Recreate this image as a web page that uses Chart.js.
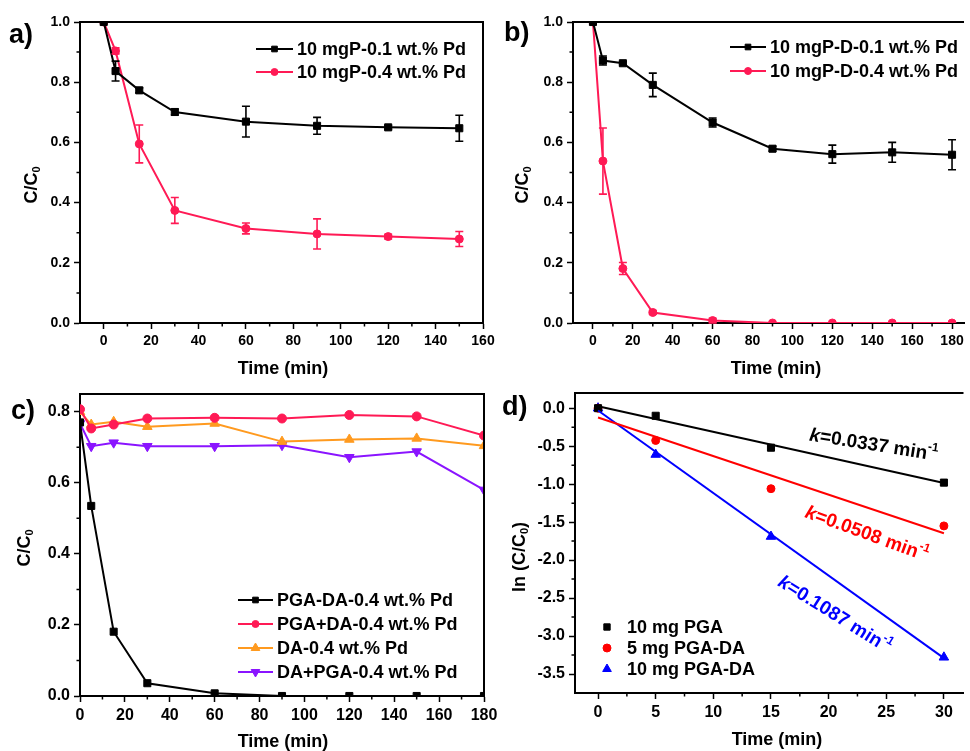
<!DOCTYPE html>
<html>
<head>
<meta charset="utf-8">
<script src="https://cdn.jsdelivr.net/npm/chart.js@4.4.1/dist/chart.umd.min.js"></script>
<style>
  body { margin: 0; background: #fff; width: 970px; height: 751px; overflow: hidden; position: relative; }
  canvas { position: absolute; }
</style>
</head>
<body>
<canvas id="chartA" width="500" height="390" style="left:0;top:0"></canvas>
<canvas id="chartB" width="490" height="390" style="left:480px;top:0"></canvas>
<canvas id="chartC" width="500" height="381" style="left:0;top:370px"></canvas>
<canvas id="chartD" width="490" height="381" style="left:480px;top:370px"></canvas>
<script>
// panel a
const timeA = [0, 5, 15, 30, 60, 90, 120, 150];
const a01 = [1.0, 0.837, 0.773, 0.701, 0.669, 0.655, 0.650, 0.647];
const a01Err = [0, 0.033, 0.008, 0.010, 0.051, 0.028, 0.006, 0.043];
const a04 = [1.0, 0.904, 0.595, 0.374, 0.314, 0.296, 0.287, 0.279];
const a04Err = [0, 0.010, 0.063, 0.043, 0.018, 0.050, 0.008, 0.025];

// panel b
const timeB = [0, 5, 15, 30, 60, 90, 120, 150, 180];
const b01 = [1.0, 0.872, 0.863, 0.791, 0.666, 0.579, 0.561, 0.567, 0.559];
const b01Err = [0, 0.015, 0.005, 0.039, 0.015, 0.008, 0.030, 0.033, 0.050];
const b04 = [1.0, 0.538, 0.181, 0.035, 0.008, 0, 0, 0, 0];
const b04Err = [0, 0.110, 0.020, 0.006, 0.008, 0, 0, 0, 0];

// panel c
const timeC = [0, 5, 15, 30, 60, 90, 120, 150, 180];
const cPgaDa = [0.77, 0.535, 0.181, 0.036, 0.0075, 0, 0, 0, 0];
const cPgaPlusDa = [0.807, 0.753, 0.764, 0.781, 0.783, 0.781, 0.791, 0.787, 0.733];
const cDa = [0.80, 0.764, 0.772, 0.758, 0.767, 0.716, 0.722, 0.725, 0.704];
const cDaPlusPga = [0.767, 0.703, 0.713, 0.703, 0.703, 0.706, 0.672, 0.688, 0.58];

// panel d (ln C/C0 and linear fits)
const timeD = [0, 5, 15, 30];
const dPga10 = [0.0, -0.10, -0.52, -0.98];
const dPgaDa5 = [0.0, -0.425, -1.06, -1.55];
const dPgaDa10 = [0.0, -0.61, -1.69, -3.28];
const fitK = [0.0337, 0.0508, 0.1087];
const fitB = [0.025, -0.123, -0.03];
const fitX = [0, 30];

// tick labels
const ticksA = [0, 20, 40, 60, 80, 100, 120, 140, 160];
const ticksB = [0, 20, 40, 60, 80, 100, 120, 140, 160, 180];
const ticksD = [0, 5, 10, 15, 20, 25, 30];
const ticksY1 = [0, 0.2, 0.4, 0.6, 0.8, 1.0];
const ticksYc = [0, 0.2, 0.4, 0.6, 0.8];
const ticksYd = [0, -0.5, -1.0, -1.5, -2.0, -2.5, -3.0, -3.5];

const FONT = "'Liberation Sans', Arial, sans-serif";
const BLACK = '#000000', PINK = '#FF1A55', ORANGE = '#FF9A1F', PURPLE = '#8A14FF';

function pts(xs, ys) {
  return xs.map((x, i) => ({ x: x, y: ys[i] }));
}

function between(list) {
  const out = [];
  for (let i = 0; i < list.length - 1; i++) out.push((list[i] + list[i + 1]) / 2);
  return out;
}

function drawRich(ctx, parts, x, y, angle, size, color) {
  const fontOf = p => (p.italic ? 'italic ' : '') + 'bold ' + (p.sub || p.sup ? Math.round(size * 0.62) : size) + 'px ' + FONT;
  let total = 0;
  parts.forEach(p => { ctx.font = fontOf(p); total += ctx.measureText(p.t).width; });
  ctx.save();
  ctx.translate(x, y);
  ctx.rotate(angle * Math.PI / 180);
  ctx.fillStyle = color;
  ctx.textAlign = 'left';
  ctx.textBaseline = 'middle';
  let cx = -total / 2;
  parts.forEach(p => {
    ctx.font = fontOf(p);
    const dy = p.sub ? size * 0.3 : (p.sup ? -size * 0.38 : 0);
    ctx.fillText(p.t, cx, dy);
    cx += ctx.measureText(p.t).width;
  });
  ctx.restore();
}

function marker(ctx, style, rot, r, x, y, color) {
  ctx.save();
  ctx.fillStyle = color;
  ctx.strokeStyle = color;
  ctx.lineWidth = 1;
  Chart.helpers.drawPoint(ctx, { pointStyle: style, rotation: rot, radius: r, borderWidth: 1 }, x, y);
  ctx.restore();
}

function makeDecor(cfg) {
  return {
    id: 'decor',
    afterDatasetsDraw(chart) {
      const ctx = chart.ctx, ys = chart.scales.y;
      (cfg.errs || []).forEach(e => {
        const meta = chart.getDatasetMeta(e.ds);
        const ds = chart.data.datasets[e.ds];
        ctx.save();
        ctx.strokeStyle = ds.borderColor;
        ctx.lineWidth = 1.6;
        meta.data.forEach((el, i) => {
          const err = e.err[i];
          if (!err) return;
          const v = ds.data[i].y;
          const t = ys.getPixelForValue(v + err), b = ys.getPixelForValue(v - err);
          ctx.beginPath();
          ctx.moveTo(el.x, t); ctx.lineTo(el.x, b);
          ctx.moveTo(el.x - 4, t); ctx.lineTo(el.x + 4, t);
          ctx.moveTo(el.x - 4, b); ctx.lineTo(el.x + 4, b);
          ctx.stroke();
        });
        ctx.restore();
      });
    },
    afterDraw(chart) {
      const ctx = chart.ctx, area = chart.chartArea;
      const xs = chart.scales.x, ys = chart.scales.y;
      ctx.save();
      // frame on top / right
      ctx.strokeStyle = BLACK;
      ctx.lineWidth = 2;
      ctx.beginPath();
      ctx.moveTo(area.left, area.top); ctx.lineTo(area.right, area.top);
      if (cfg.frameRight) ctx.lineTo(area.right, area.bottom);
      ctx.stroke();
      // minor ticks
      ctx.lineWidth = 1.5;
      ctx.beginPath();
      cfg.minorX.forEach(v => {
        const p = xs.getPixelForValue(v);
        ctx.moveTo(p, area.bottom); ctx.lineTo(p, area.bottom + 3.5);
      });
      cfg.minorY.forEach(v => {
        const p = ys.getPixelForValue(v);
        ctx.moveTo(area.left, p); ctx.lineTo(area.left - 3.5, p);
      });
      ctx.stroke();
      // panel letter
      ctx.fillStyle = BLACK;
      ctx.font = 'bold 27px ' + FONT;
      ctx.textAlign = 'left';
      ctx.textBaseline = 'alphabetic';
      ctx.fillText(cfg.letter[0], cfg.letter[1], cfg.letter[2]);
      // axis titles
      drawRich(ctx, [{ t: 'Time (min)' }], cfg.xTitle[0], cfg.xTitle[1], 0, 18, BLACK);
      drawRich(ctx, cfg.yTitleParts, cfg.yTitle[0], cfg.yTitle[1], -90, 18, BLACK);
      // legend
      const lg = cfg.legend;
      lg.items.forEach((it, i) => {
        const y = lg.y + i * lg.gap;
        if (lg.line) {
          ctx.strokeStyle = it.color;
          ctx.lineWidth = 2;
          ctx.beginPath();
          ctx.moveTo(lg.x, y); ctx.lineTo(lg.x + lg.line, y);
          ctx.stroke();
          marker(ctx, it.style, it.rot || 0, it.r, lg.x + lg.line / 2, y, it.color);
          ctx.fillStyle = BLACK;
          ctx.font = 'bold 18px ' + FONT;
          ctx.textBaseline = 'middle';
          ctx.fillText(it.label, lg.x + lg.line + 4, y + 1);
        } else {
          marker(ctx, it.style, it.rot || 0, it.r, lg.x, y, it.color);
          ctx.fillStyle = BLACK;
          ctx.font = 'bold 18px ' + FONT;
          ctx.textBaseline = 'middle';
          ctx.fillText(it.label, lg.x + 20, y + 1);
        }
      });
      // rate constant notes
      (cfg.notes || []).forEach(n => {
        const px = xs.getPixelForValue(n.at[0]), py = ys.getPixelForValue(n.at[1]);
        drawRich(ctx, [{ t: 'k', italic: true }, { t: '=' + n.k.toFixed(4) + ' min' }, { t: '-1', sup: true }],
          px, py, n.angle, 19, n.color);
      });
      ctx.restore();
    }
  };
}

function makeScales(o) {
  const tickFont = { family: FONT, weight: 'bold', size: o.tickSize };
  return {
    x: {
      type: 'linear', min: o.xMin, max: o.xMax,
      afterBuildTicks: s => { s.ticks = o.xTicks.map(v => ({ value: v })); },
      afterFit: s => { s.height = o.xHeight; s.paddingLeft = 0; s.paddingRight = 0; },
      ticks: { color: BLACK, font: tickFont, padding: 4, maxRotation: 0, autoSkip: false, callback: v => String(v) },
      grid: { drawOnChartArea: false, tickLength: 6, tickWidth: 1.5, tickColor: BLACK },
      border: { color: BLACK, width: 2 }
    },
    y: {
      type: 'linear', min: o.yMin, max: o.yMax,
      afterBuildTicks: s => { s.ticks = o.yTicks.map(v => ({ value: v })); },
      afterFit: s => { s.width = o.yWidth; s.paddingTop = 0; s.paddingBottom = 0; },
      ticks: { color: BLACK, font: tickFont, padding: 4, autoSkip: false, callback: v => v.toFixed(1) },
      grid: { drawOnChartArea: false, tickLength: 6, tickWidth: 1.5, tickColor: BLACK },
      border: { color: BLACK, width: 2 }
    }
  };
}

function lineSet(label, xs, ys, color, style, r, rot) {
  return {
    label: label, data: pts(xs, ys), borderColor: color, backgroundColor: color,
    borderWidth: 2, pointStyle: style, pointRadius: r, pointRotation: rot || 0,
    pointBorderWidth: 1, tension: 0
  };
}

function baseOptions(pad, scales) {
  return {
    responsive: false, animation: false,
    layout: { padding: pad },
    plugins: { legend: { display: false }, tooltip: { enabled: false } },
    scales: scales
  };
}

// ---- a)
new Chart(document.getElementById('chartA'), {
  type: 'line',
  data: { datasets: [
    lineSet('10 mgP-0.1 wt.% Pd', timeA, a01, BLACK, 'rect', 5),
    lineSet('10 mgP-0.4 wt.% Pd', timeA, a04, PINK, 'circle', 4)
  ] },
  options: baseOptions({ top: 22, right: 17, left: 0, bottom: 0 },
    makeScales({ xMin: -10, xMax: 160, xTicks: ticksA, xHeight: 67, yMin: 0, yMax: 1.0, yTicks: ticksY1, yWidth: 80, tickSize: 14 })),
  plugins: [makeDecor({
    frameRight: true, letter: ['a)', 9, 43],
    minorX: between(ticksA), minorY: between(ticksY1),
    xTitle: [283, 369], yTitle: [32, 185], yTitleParts: [{ t: 'C/C' }, { t: '0', sub: true }],
    errs: [{ ds: 0, err: a01Err }, { ds: 1, err: a04Err }],
    legend: { x: 256, y: 49, gap: 23, line: 37, items: [
      { label: '10 mgP-0.1 wt.% Pd', color: BLACK, style: 'rect', r: 4 },
      { label: '10 mgP-0.4 wt.% Pd', color: PINK, style: 'circle', r: 3.5 }
    ] }
  })]
});

// ---- b)
new Chart(document.getElementById('chartB'), {
  type: 'line',
  data: { datasets: [
    lineSet('10 mgP-D-0.1 wt.% Pd', timeB, b01, BLACK, 'rect', 5),
    lineSet('10 mgP-D-0.4 wt.% Pd', timeB, b04, PINK, 'circle', 4)
  ] },
  options: baseOptions({ top: 22, right: 0, left: 0, bottom: 0 },
    makeScales({ xMin: -10, xMax: 186, xTicks: ticksB, xHeight: 67, yMin: 0, yMax: 1.0, yTicks: ticksY1, yWidth: 93, tickSize: 14 })),
  plugins: [makeDecor({
    frameRight: false, letter: ['b)', 24, 41],
    minorX: between(ticksB), minorY: between(ticksY1),
    xTitle: [296, 369], yTitle: [43, 185], yTitleParts: [{ t: 'C/C' }, { t: '0', sub: true }],
    errs: [{ ds: 0, err: b01Err }, { ds: 1, err: b04Err }],
    legend: { x: 250, y: 47, gap: 24, line: 36, items: [
      { label: '10 mgP-D-0.1 wt.% Pd', color: BLACK, style: 'rect', r: 4 },
      { label: '10 mgP-D-0.4 wt.% Pd', color: PINK, style: 'circle', r: 3.5 }
    ] }
  })]
});

// ---- c)
new Chart(document.getElementById('chartC'), {
  type: 'line',
  data: { datasets: [
    lineSet('PGA-DA-0.4 wt.% Pd', timeC, cPgaDa, BLACK, 'rect', 5),
    lineSet('PGA+DA-0.4 wt.% Pd', timeC, cPgaPlusDa, PINK, 'circle', 4.5),
    lineSet('DA-0.4 wt.% Pd', timeC, cDa, ORANGE, 'triangle', 5.5),
    lineSet('DA+PGA-0.4 wt.% Pd', timeC, cDaPlusPga, PURPLE, 'triangle', 5.5, 180)
  ] },
  options: baseOptions({ top: 24, right: 16, left: 0, bottom: 0 },
    makeScales({ xMin: 0, xMax: 180, xTicks: ticksB, xHeight: 55, yMin: 0, yMax: 0.85, yTicks: ticksYc, yWidth: 80, tickSize: 16 })),
  plugins: [makeDecor({
    frameRight: true, letter: ['c)', 11, 49],
    minorX: between(ticksB), minorY: between(ticksYc),
    xTitle: [283, 372], yTitle: [25, 178], yTitleParts: [{ t: 'C/C' }, { t: '0', sub: true }],
    legend: { x: 238, y: 230, gap: 24, line: 35, items: [
      { label: 'PGA-DA-0.4 wt.% Pd', color: BLACK, style: 'rect', r: 4 },
      { label: 'PGA+DA-0.4 wt.% Pd', color: PINK, style: 'circle', r: 3.5 },
      { label: 'DA-0.4 wt.% Pd', color: ORANGE, style: 'triangle', r: 5 },
      { label: 'DA+PGA-0.4 wt.% Pd', color: PURPLE, style: 'triangle', r: 5, rot: 180 }
    ] }
  })]
});

// ---- d)
function scatterSet(label, ys, color, style, r) {
  return {
    label: label, data: pts(timeD, ys), showLine: false, borderColor: color, backgroundColor: color,
    pointStyle: style, pointRadius: r, pointBorderWidth: 1
  };
}
function fitSet(i, color) {
  return {
    label: 'fit ' + i, data: fitX.map(x => ({ x: x, y: fitB[i] - fitK[i] * x })),
    borderColor: color, borderWidth: 2, pointRadius: 0, tension: 0
  };
}
const RED = '#FF0000', BLUE = '#0000FF';
new Chart(document.getElementById('chartD'), {
  type: 'line',
  data: { datasets: [
    fitSet(0, BLACK), fitSet(1, RED), fitSet(2, BLUE),
    scatterSet('10 mg PGA', dPga10, BLACK, 'rect', 5),
    scatterSet('5 mg PGA-DA', dPgaDa5, RED, 'circle', 4),
    scatterSet('10 mg PGA-DA', dPgaDa10, BLUE, 'triangle', 5.5)
  ] },
  options: baseOptions({ top: 23, right: 0, left: 0, bottom: 0 },
    makeScales({ xMin: -2, xMax: 31.7, xTicks: ticksD, xHeight: 58, yMin: -3.75, yMax: 0.2, yTicks: ticksYd, yWidth: 95, tickSize: 16 })),
  plugins: [makeDecor({
    frameRight: false, letter: ['d)', 22, 45],
    minorX: between(ticksD), minorY: between(ticksYd),
    xTitle: [297, 370], yTitle: [40, 187],
    yTitleParts: [{ t: 'ln (C/C' }, { t: '0', sub: true }, { t: ')' }],
    legend: { x: 127, y: 257, gap: 21, line: 0, items: [
      { label: '10 mg PGA', color: BLACK, style: 'rect', r: 4.5 },
      { label: '5 mg PGA-DA', color: RED, style: 'circle', r: 4 },
      { label: '10 mg PGA-DA', color: BLUE, style: 'triangle', r: 5 }
    ] },
    notes: [
      { k: fitK[0], at: [23.9, -0.49], angle: 9, color: BLACK },
      { k: fitK[1], at: [23.3, -1.66], angle: 20, color: RED },
      { k: fitK[2], at: [20.5, -2.72], angle: 32, color: BLUE }
    ]
  })]
});
</script>
</body>
</html>
